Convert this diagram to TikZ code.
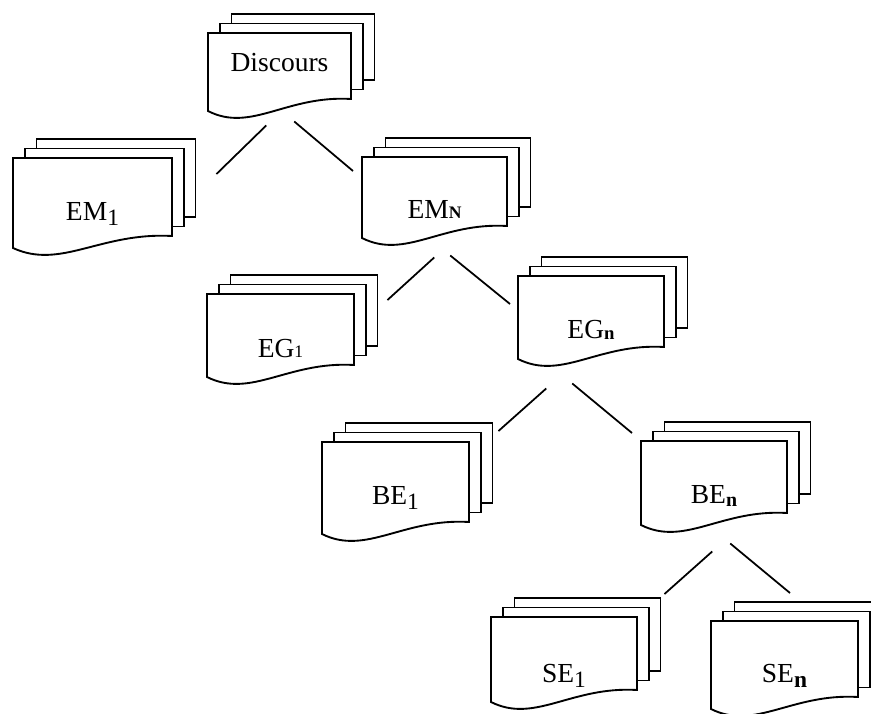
\documentclass[tikz,border=0pt]{standalone}
\usepackage{fontspec}
\setmainfont{Liberation Serif}
\usepackage{tikz}

% stack of three pages: name, left, top, width, height, baseline, text
\newcommand{\docstack}[7]{%
  \draw[page] (#2+23.5,#3-19) rectangle ++(#4,#5);
  \draw[page] (#2+12,#3-9.5) rectangle ++(#4,#5);
  \draw[page] (#2,#3) -- ++(#4,0) -- ++(0,#5)
    .. controls (#2+0.55*#4,#3+#5-4) and (#2+0.3*#4,#3+#5+34) .. (#2,#3+#5+12) -- cycle;
  \node[box, minimum width=#4*0.3mm, minimum height=#5*0.3mm] (#1) at (#2,#3) {};
  \node[lbl] (#1-txt) at (#2+0.5*#4,#3+#6) {#7};
}
% lowered index: size, drop, text
\newcommand{\idx}[3]{\raisebox{-#2}{\fontsize{#1}{#1}\selectfont #3}}

\begin{document}
\begin{tikzpicture}[
        x=0.3mm, y=-0.3mm,
        page/.style={draw, fill=white, line width=1.6pt, line join=miter},
        box/.style={rectangle, draw=none, anchor=north west, inner sep=0pt},
        lbl/.style={anchor=base, inner sep=0pt, font=\fontsize{23.5}{28}\selectfont},
        link/.style={line width=1.5pt}
    ]
    \useasboundingbox (0,0) rectangle (871,713);
    \clip (0,0) rectangle (871,713);

    % documents
    \docstack{disc}{208}{33}{143}{66}{38}{Discours}
    \docstack{em1}{13}{158}{159}{78}{62}{EM\idx{20}{5pt}{1}}
    \docstack{emn}{362}{157}{145}{69}{61}{EM\idx{15}{0pt}{\bfseries N}}
    \docstack{eg1}{207}{294}{147}{71}{63}{EG\idx{15}{0pt}{1}}
    \docstack{egn}{518}{276}{146}{71}{62}{EG\idx{16}{1.5pt}{\bfseries n}}
    \docstack{be1}{322}{442}{147}{80}{62}{BE\idx{20}{5pt}{1}}
    \docstack{ben}{641}{441}{146}{72}{62}{BE\idx{17}{3pt}{\bfseries n}}
    \docstack{se1}{491}{617}{146}{73}{65}{SE\idx{20}{5pt}{1}}
    \docstack{sen}{711}{621}{147}{76}{61}{SE\idx{20}{5pt}{\bfseries n}}

    % links
    \draw[link] ([shift={(-13.5,26)}]disc.south) -- ([shift={(44,16)}]em1.north east);
    \draw[link] ([shift={(14.5,22)}]disc.south) -- ([shift={(-9,14)}]emn.north west);
    \draw[link] ([shift={(-0.5,31)}]emn.south) -- ([shift={(33,6)}]eg1.north east);
    \draw[link] ([shift={(15.5,29)}]emn.south) -- ([shift={(-8,28)}]egn.north west);
    \draw[link] ([shift={(-45,41)}]egn.south) -- ([shift={(29,-11)}]be1.north east);
    \draw[link] ([shift={(-19,36)}]egn.south) -- ([shift={(-9,-8)}]ben.north west);
    \draw[link] ([shift={(-2,38)}]ben.south) -- ([shift={(27,-23)}]se1.north east);
    \draw[link] ([shift={(16,30)}]ben.south) -- ([shift={(79,-28)}]sen.north west);
\end{tikzpicture}
\end{document}
